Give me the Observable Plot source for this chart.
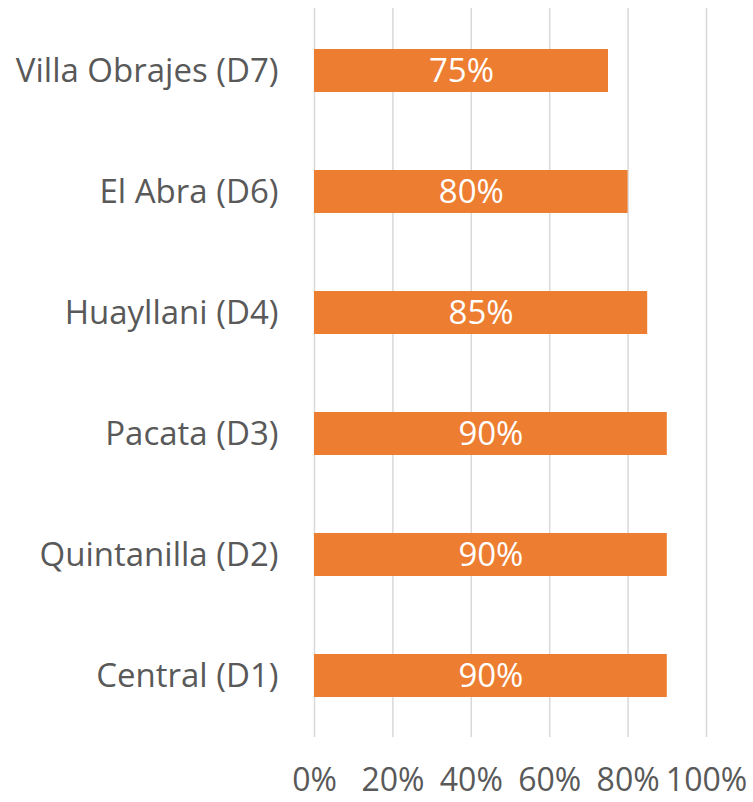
<!DOCTYPE html>
<html>
<head>
<meta charset="utf-8">
<script src="https://cdn.jsdelivr.net/npm/d3@7"></script>
<script src="https://cdn.jsdelivr.net/npm/@observablehq/plot@0.6"></script>
<style>
  html, body { margin: 0; padding: 0; background: white; }
</style>
</head>
<body>
<div id="chart"></div>
<script>
const districts = ["Villa Obrajes (D7)", "El Abra (D6)", "Huayllani (D4)", "Pacata (D3)", "Quintanilla (D2)", "Central (D1)"];
const coverage = [75, 80, 85, 90, 90, 90];
const xTicks = [0, 20, 40, 60, 80, 100];

const data = districts.map((d, i) => ({district: d, value: coverage[i]}));
const pct = d => d + "%";

const chart = Plot.plot({
  width: 753,
  height: 802,
  marginLeft: 314,
  marginRight: 47,
  marginTop: 8,
  marginBottom: 65,
  style: {fontFamily: "'Open Sans', sans-serif", fontSize: "33px", color: "#595959", background: "white"},
  x: {domain: [0, 100], label: null},
  y: {domain: districts, paddingInner: 0.646, paddingOuter: 0.323, label: null},
  marks: [
    Plot.gridX(xTicks, {stroke: "#d9d9d9", strokeOpacity: 1, strokeWidth: 1.5}),
    Plot.barX(data, {x: "value", y: "district", fill: "#ED7D31"}),
    Plot.text(data, {x: d => d.value / 2, y: "district", text: d => pct(d.value), fill: "white", fontSize: 33}),
    Plot.axisX(xTicks, {tickSize: 0, tickPadding: 31, tickFormat: pct, fill: "#595959", fontSize: 32, label: null}),
    Plot.axisY({tickSize: 0, tickPadding: 36, fill: "#595959", label: null})
  ]
});
document.getElementById("chart").appendChild(chart);
</script>
</body>
</html>
